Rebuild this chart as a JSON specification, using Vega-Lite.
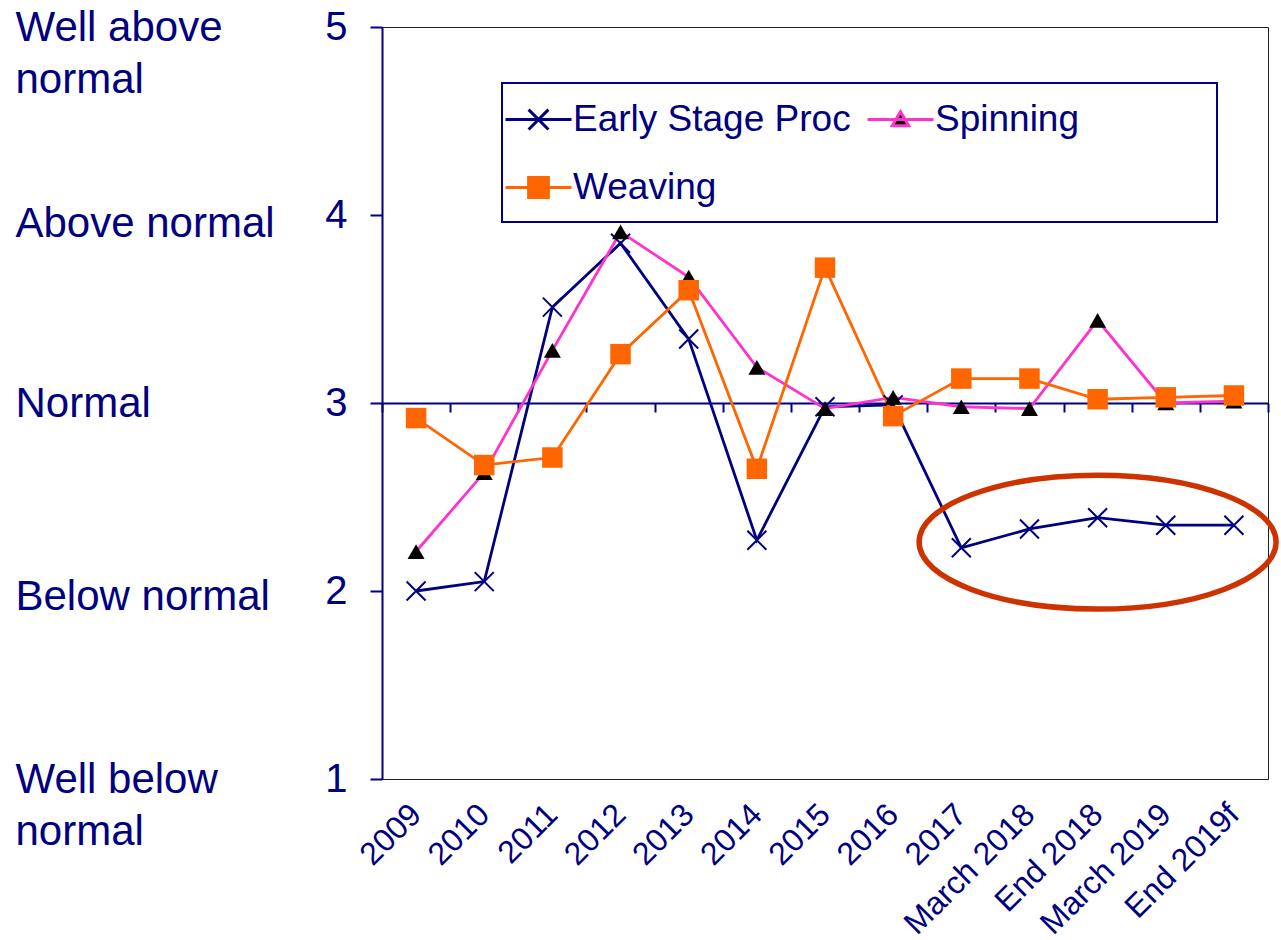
{
  "$schema": "https://vega.github.io/schema/vega-lite/v6.json",
  "width": 886,
  "height": 752,
  "autosize": {"type": "none"},
  "padding": {"left": 382, "top": 27, "right": 13, "bottom": 161},
  "background": "#FFFFFF",
  "config": {
    "view": {"stroke": "#202020", "strokeWidth": 1},
    "font": "Liberation Sans",
    "legend": {"strokeWidth": 2}
  },
  "datasets": {
    "series": [
      {"period": "2009", "series": "Early Stage Proc", "value": 2.00},
      {"period": "2010", "series": "Early Stage Proc", "value": 2.05},
      {"period": "2011", "series": "Early Stage Proc", "value": 3.51},
      {"period": "2012", "series": "Early Stage Proc", "value": 3.85},
      {"period": "2013", "series": "Early Stage Proc", "value": 3.34},
      {"period": "2014", "series": "Early Stage Proc", "value": 2.27},
      {"period": "2015", "series": "Early Stage Proc", "value": 2.98},
      {"period": "2016", "series": "Early Stage Proc", "value": 2.99},
      {"period": "2017", "series": "Early Stage Proc", "value": 2.23},
      {"period": "March 2018", "series": "Early Stage Proc", "value": 2.33},
      {"period": "End 2018", "series": "Early Stage Proc", "value": 2.39},
      {"period": "March 2019", "series": "Early Stage Proc", "value": 2.35},
      {"period": "End 2019f", "series": "Early Stage Proc", "value": 2.35},
      {"period": "2009", "series": "Spinning", "value": 2.21},
      {"period": "2010", "series": "Spinning", "value": 2.63},
      {"period": "2011", "series": "Spinning", "value": 3.28},
      {"period": "2012", "series": "Spinning", "value": 3.91},
      {"period": "2013", "series": "Spinning", "value": 3.67},
      {"period": "2014", "series": "Spinning", "value": 3.19},
      {"period": "2015", "series": "Spinning", "value": 2.97},
      {"period": "2016", "series": "Spinning", "value": 3.03},
      {"period": "2017", "series": "Spinning", "value": 2.98},
      {"period": "March 2018", "series": "Spinning", "value": 2.97},
      {"period": "End 2018", "series": "Spinning", "value": 3.44},
      {"period": "March 2019", "series": "Spinning", "value": 3.00},
      {"period": "End 2019f", "series": "Spinning", "value": 3.01},
      {"period": "2009", "series": "Weaving", "value": 2.92},
      {"period": "2010", "series": "Weaving", "value": 2.67},
      {"period": "2011", "series": "Weaving", "value": 2.71},
      {"period": "2012", "series": "Weaving", "value": 3.26},
      {"period": "2013", "series": "Weaving", "value": 3.60},
      {"period": "2014", "series": "Weaving", "value": 2.65},
      {"period": "2015", "series": "Weaving", "value": 3.72},
      {"period": "2016", "series": "Weaving", "value": 2.93},
      {"period": "2017", "series": "Weaving", "value": 3.13},
      {"period": "March 2018", "series": "Weaving", "value": 3.13},
      {"period": "End 2018", "series": "Weaving", "value": 3.02},
      {"period": "March 2019", "series": "Weaving", "value": 3.03},
      {"period": "End 2019f", "series": "Weaving", "value": 3.04}
    ],
    "highlight": [
      {"period": "End 2018", "value": 2.26}
    ]
  },
  "resolve": {"axis": {"x": "independent", "y": "independent"}},
  "layer": [
    {
      "data": {"name": "series"},
      "mark": {"type": "line", "strokeWidth": 2.8},
      "encoding": {
        "x": {
          "field": "period", "type": "ordinal",
          "sort": ["2009", "2010", "2011", "2012", "2013", "2014", "2015", "2016", "2017", "March 2018", "End 2018", "March 2019", "End 2019f"],
          "scale": {"type": "band", "paddingInner": 0, "paddingOuter": 0},
          "axis": {
            "orient": "bottom", "title": null, "domain": false, "ticks": false, "grid": false,
            "labelAngle": -45, "labelAlign": "right", "labelBaseline": "middle",
            "labelFontSize": 32, "labelColor": "#000080", "labelFont": "Liberation Sans",
            "labelPadding": 30, "labelLimit": 400, "labelOverlap": false
          }
        },
        "y": {
          "field": "value", "type": "quantitative",
          "scale": {"domain": [1, 5], "nice": false, "zero": false},
          "axis": {
            "orient": "left", "values": [1, 2, 3, 4, 5], "title": null, "grid": false,
            "domain": true, "domainColor": "#000080", "domainWidth": 2,
            "ticks": true, "tickColor": "#000080", "tickWidth": 2, "tickSize": 12,
            "labelPadding": 23, "labelFontSize": 40, "labelColor": "#000080", "labelFont": "Liberation Sans",
            "format": "d", "labelFlush": false, "labelOverlap": false
          }
        },
        "stroke": {
          "field": "series", "type": "nominal",
          "scale": {"domain": ["Early Stage Proc", "Weaving", "Spinning"], "range": ["#000080", "#FF6600", "#FF33CC"]}
        }
      }
    },
    {
      "data": {"name": "series"},
      "transform": [{"filter": "datum.series === 'Early Stage Proc'"}],
      "mark": {"type": "point", "shape": "M -1 -1 L 1 1 M -1 1 L 1 -1", "size": 361, "filled": false, "stroke": "#000080", "strokeWidth": 2, "opacity": 1},
      "encoding": {
        "x": {
          "field": "period", "type": "ordinal",
          "sort": ["2009", "2010", "2011", "2012", "2013", "2014", "2015", "2016", "2017", "March 2018", "End 2018", "March 2019", "End 2019f"],
          "axis": {
            "orient": "bottom", "offset": -376, "title": null, "labels": false, "grid": false,
            "domain": true, "domainColor": "#000080", "domainWidth": 2,
            "ticks": true, "tickColor": "#000080", "tickWidth": 2, "tickSize": 9, "tickBand": "extent"
          }
        },
        "y": {
          "field": "value", "type": "quantitative",
          "axis": {
            "orient": "left", "values": [1, 2, 3, 4, 5], "title": null, "grid": false,
            "domain": false, "ticks": false, "tickSize": 0,
            "labelAlign": "left", "labelBaseline": "middle", "labelPadding": 367,
            "labelFontSize": 42, "labelColor": "#000080", "labelFont": "Liberation Sans",
            "labelLineHeight": 52, "labelLimit": 500, "labelFlush": false, "labelOverlap": false,
            "labelOffset": {"expr": "datum.value == 4 ? 8 : datum.value == 2 ? 5 : 0"},
            "labelExpr": "datum.value == 5 ? ['Well above', 'normal'] : datum.value == 4 ? 'Above normal' : datum.value == 3 ? 'Normal' : datum.value == 2 ? 'Below normal' : ['Well below', 'normal']"
          }
        }
      }
    },
    {
      "data": {"name": "series"},
      "transform": [{"filter": "datum.series === 'Spinning'"}],
      "mark": {"type": "point", "shape": "triangle-up", "size": 289, "filled": true, "fill": "#000000", "strokeWidth": 0, "opacity": 1},
      "encoding": {
        "x": {"field": "period", "type": "ordinal", "sort": ["2009", "2010", "2011", "2012", "2013", "2014", "2015", "2016", "2017", "March 2018", "End 2018", "March 2019", "End 2019f"], "axis": null},
        "y": {"field": "value", "type": "quantitative", "axis": null}
      }
    },
    {
      "data": {"name": "series"},
      "transform": [{"filter": "datum.series === 'Weaving'"}],
      "mark": {"type": "point", "shape": "square", "size": 420, "filled": true, "fill": "#FF6600", "strokeWidth": 0, "opacity": 1},
      "encoding": {
        "x": {"field": "period", "type": "ordinal", "sort": ["2009", "2010", "2011", "2012", "2013", "2014", "2015", "2016", "2017", "March 2018", "End 2018", "March 2019", "End 2019f"], "axis": null},
        "y": {"field": "value", "type": "quantitative", "axis": null}
      }
    },
    {
      "data": {"name": "series"},
      "mark": {"type": "point", "filled": true, "opacity": 0},
      "encoding": {
        "x": {"field": "period", "type": "ordinal", "sort": ["2009", "2010", "2011", "2012", "2013", "2014", "2015", "2016", "2017", "March 2018", "End 2018", "March 2019", "End 2019f"], "axis": null},
        "y": {"field": "value", "type": "quantitative", "axis": null},
        "stroke": {
          "field": "series", "type": "nominal",
          "scale": {"domain": ["Early Stage Proc", "Weaving", "Spinning"], "range": ["#000080", "#FF6600", "#FF33CC"]},
          "legend": {
            "orient": "none", "legendX": 120, "legendY": 56,
            "columns": 2, "padding": 2, "rowPadding": 1, "columnPadding": 10,
            "title": " ", "titleOrient": "right", "titleFontSize": 1, "titlePadding": 136,
            "fillColor": "#FFFFFF", "strokeColor": "#000080",
            "symbolSize": 4356, "symbolStrokeWidth": 3, "symbolOpacity": 1,
            "labelFontSize": 37, "labelColor": "#000080", "labelFont": "Liberation Sans",
            "labelOffset": 0, "labelLimit": 500
          }
        },
        "fill": {
          "field": "series", "type": "nominal",
          "scale": {"domain": ["Early Stage Proc", "Weaving", "Spinning"], "range": ["transparent", "#FF6600", "#000000"]},
          "legend": {
            "orient": "none", "legendX": 120, "legendY": 56,
            "columns": 2, "padding": 2, "rowPadding": 1, "columnPadding": 10,
            "title": " ", "titleOrient": "right", "titleFontSize": 1, "titlePadding": 136,
            "fillColor": "#FFFFFF", "strokeColor": "#000080",
            "symbolSize": 4356, "symbolStrokeWidth": 3, "symbolOpacity": 1,
            "labelFontSize": 37, "labelColor": "#000080", "labelFont": "Liberation Sans",
            "labelOffset": 0, "labelLimit": 500
          }
        },
        "shape": {
          "field": "series", "type": "nominal",
          "scale": {"domain": ["Early Stage Proc", "Weaving", "Spinning"], "range": [
            "M 0 -0.8 M 0 0.8 M -1 0 L 1 0 M -0.3 -0.3 L 0.3 0.3 M -0.3 0.3 L 0.3 -0.3",
            "M 0 -0.8 M 0 0.8 M -1 0 L 1 0 M -0.3 -0.3 L 0.3 -0.3 L 0.3 0.3 L -0.3 0.3 Z",
            "M 0 -0.8 M 0 0.8 M -1 0 L 1 0 M 0 -0.24 L 0.25 0.19 L -0.25 0.19 Z"
          ]},
          "legend": {
            "orient": "none", "legendX": 120, "legendY": 56,
            "columns": 2, "padding": 2, "rowPadding": 1, "columnPadding": 10,
            "title": " ", "titleOrient": "right", "titleFontSize": 1, "titlePadding": 136,
            "fillColor": "#FFFFFF", "strokeColor": "#000080",
            "symbolSize": 4356, "symbolStrokeWidth": 3, "symbolOpacity": 1,
            "labelFontSize": 37, "labelColor": "#000080", "labelFont": "Liberation Sans",
            "labelOffset": 0, "labelLimit": 500
          }
        }
      }
    },
    {
      "data": {"name": "highlight"},
      "mark": {"type": "point", "shape": "M -1 0 A 1 0.375 0 1 1 1 0 A 1 0.375 0 1 1 -1 0 Z", "size": 127449, "filled": false, "stroke": "#CC3300", "strokeWidth": 5.5, "opacity": 1},
      "encoding": {
        "x": {"field": "period", "type": "ordinal", "sort": ["2009", "2010", "2011", "2012", "2013", "2014", "2015", "2016", "2017", "March 2018", "End 2018", "March 2019", "End 2019f"], "axis": null},
        "y": {"field": "value", "type": "quantitative", "axis": null}
      }
    }
  ]
}
